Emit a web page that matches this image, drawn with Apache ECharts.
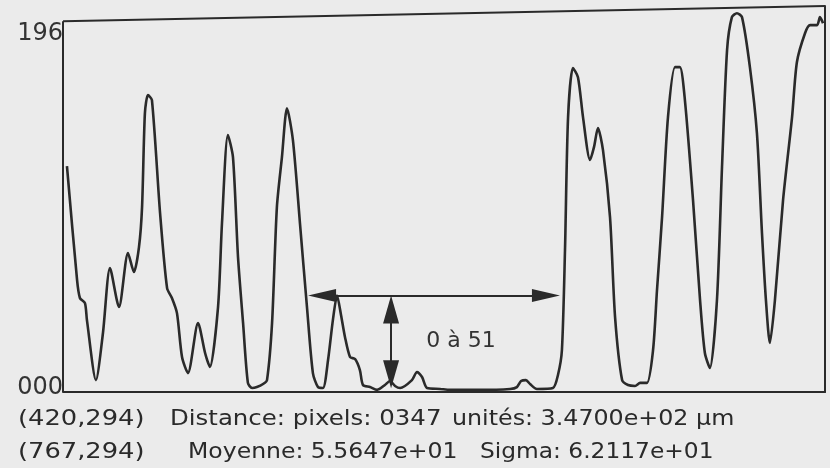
<!DOCTYPE html>
<html>
<head>
<meta charset="utf-8">
<script src="https://cdn.jsdelivr.net/npm/echarts@6/dist/echarts.min.js"></script>
<style>html,body{margin:0;padding:0;background:#ebebeb;}#c{width:830px;height:468px;}</style>
</head>
<body>
<div id="c"></div>
<script>
// profile: pixel distance along the line (0..347) and grey level
const profileX = [1.8,6.4,7.7,10.0,10.9,15.0,18.2,21.4,25.5,29.6,32.3,34.6,36.0,37.3,38.7,40.5,44.2,47.4,49.6,51.9,54.2,56.9,61.5,64.7,66.9,70.6,72.4,75.1,77.4,79.7,82.0,84.2,86.1,88.3,91.1,92.9,95.2,97.4,99.7,102.0,104.7,107.9,111.1,113.8,116.1,118.4,120.7,122.9,124.8,126.6,128.4,130.7,133.0,135.2,136.6,139.8,143.0,146.6,148.9,151.2,153.5,158.9,161.2,163.5,165.8,171.7,176.2,189.9,203.6,206.7,208.6,210.8,212.7,215.8,223.1,225.4,227.2,228.6,230.0,232.2,234.5,236.8,240.0,241.8,243.6,245.9,249.1,251.4,254.6,257.3,260.5,262.8,265.9,268.7,270.5,272.8,275.5,278.7,280.9,283.2,286.9,290.1,292.3,294.6,297.8,300.1,302.4,304.6,306.9,309.2,312.8,316.0,318.3,320.1,321.9,324.2,327.9,332.0,334.2,337.9,340.2,343.4,344.7,346.1];
const profileY = [119.4,59.2,49.7,47.0,38.0,6.3,31.2,65.5,44.9,73.4,63.4,76.6,97.7,147.4,156.9,154.3,94.6,54.9,49.7,41.7,18.5,10.0,36.5,20.6,13.2,44.9,89.3,135.8,124.1,71.3,36.5,4.8,2.1,2.6,4.2,6.3,36.5,97.7,124.1,150.0,133.1,89.3,44.9,10.0,2.6,2.1,16.9,38.0,51.0,40.7,29.1,18.5,17.4,11.6,3.7,2.6,1.1,3.7,5.8,3.2,2.1,6.3,10.6,7.9,2.1,1.6,1.1,1.1,1.6,2.6,5.8,6.3,4.2,1.6,2.1,9.0,22.2,75.0,145.3,171.2,166.4,145.3,122.6,129.4,139.5,127.8,92.4,39.6,6.3,3.7,3.2,4.8,4.8,22.2,53.9,92.4,145.3,171.7,171.7,154.3,101.4,48.6,20.6,12.7,48.6,118.9,180.7,198.1,200.2,198.1,171.7,136.8,84.0,48.6,25.9,48.6,101.4,145.3,174.3,189.6,193.9,193.9,198.1,194.9];
const yTickValues = [0, 196];
const yTickLabels = ['000', '196'];
const rangeFrom = 0, rangeTo = 51;        // "0 à 51"
const hArrowX = [111.6, 226.3];            // horizontal double arrow extent
const vArrowX = 149.4;                     // vertical double arrow position
const rangeLabel = '0 à 51';
const infoLine1 = ['(420,294)', 'Distance: pixels: 0347', 'unités: 3.4700e+02 μm'];
const infoLine2 = ['(767,294)', 'Moyenne: 5.5647e+01', 'Sigma: 6.2117e+01'];

const ink = '#2a2a2a';
const font = 'DejaVu Sans';
const data = profileX.map((x, i) => [x, profileY[i]]);

const chart = echarts.init(document.getElementById('c'), null, {renderer: 'canvas'});
const gridH = 386, yMax = 204, plotW = 762, xMax = 347;
const headLen = 28;
const dxHead = headLen / 2 * xMax / plotW;       // half arrow head, in x units
const dyHead = headLen / 2 * yMax / gridH;       // half arrow head, in y units
const txt = (s, x, y, sx) => ({type: 'text', x: x, y: y, scaleX: sx, style: {text: s, fill: ink, font: '22px "' + font + '"', textVerticalAlign: 'middle'}});
const arrow = (a, b, w) => [
  {coord: a, symbol: 'triangle', symbolSize: [w, headLen]},
  {coord: b, symbol: 'triangle', symbolSize: [w, headLen]}
];
chart.setOption({
  backgroundColor: '#ebebeb',
  animation: false,
  grid: {left: 63, right: 5, top: 6, bottom: 76},
  xAxis: {type: 'value', min: 0, max: xMax, axisLabel: {show: false}, axisTick: {show: false}, splitLine: {show: false},
          axisLine: {show: true, onZero: false, lineStyle: {color: ink, width: 2}}},
  yAxis: [
    {type: 'value', min: 0, max: yMax, interval: 196, splitLine: {show: false}, axisTick: {show: false},
     axisLine: {show: false},
     axisLabel: {show: true, showMaxLabel: false, margin: 0, color: '#333', fontFamily: font, fontSize: 24,
       formatter: v => { const i = yTickValues.indexOf(v); if (i < 0) return ''; return i === 0 ? '{b|' + yTickLabels[i] + '}' : '{t|' + yTickLabels[i] + '}'; },
       rich: {t: {padding: [26, 0, 0, 0], fontFamily: font, fontSize: 24, color: '#333'},
              b: {padding: [0, 0, 8, 0], fontFamily: font, fontSize: 24, color: '#333'}}}},
    {type: 'value', min: 0, max: yMax, position: 'right', axisLabel: {show: false}, axisTick: {show: false}, splitLine: {show: false},
     axisLine: {show: true, lineStyle: {color: ink, width: 2}}}
  ],
  series: [{
    type: 'line', data: data, showSymbol: false, smooth: 0.25, clip: false,
    lineStyle: {color: ink, width: 2.6},
    markLine: {
      silent: true, animation: false,
      label: {show: false},
      data: [
        [{coord: [0, yTickValues[1]], symbol: 'none'}, {coord: [xMax, yMax], symbol: 'none'}],
        [{coord: [0, 0], symbol: 'none'}, {coord: [0, yTickValues[1]], symbol: 'none'}],
        arrow([hArrowX[0] + dxHead, rangeTo], [hArrowX[1] - dxHead, rangeTo], 13),
        arrow([vArrowX, rangeFrom + 2 + dyHead], [vArrowX, rangeTo - dyHead], 16)
      ],
      lineStyle: {color: ink, width: 2, type: 'solid'}
    },
    markPoint: {
      silent: true, symbol: 'circle', symbolSize: 0,
      data: [{coord: [181.2, 26.9], label: {show: true, position: 'inside', formatter: rangeLabel, color: '#333', fontFamily: font, fontSize: 22}}]
    }
  }],
  graphic: [
    txt(infoLine1[0], 18, 419, 1.17), txt(infoLine1[1], 170, 419, 1.11), txt(infoLine1[2], 452, 419, 1.08),
    txt(infoLine2[0], 18, 452, 1.17), txt(infoLine2[1], 188, 452, 1.07), txt(infoLine2[2], 480, 452, 1.06)
  ]
});
</script>
</body>
</html>
